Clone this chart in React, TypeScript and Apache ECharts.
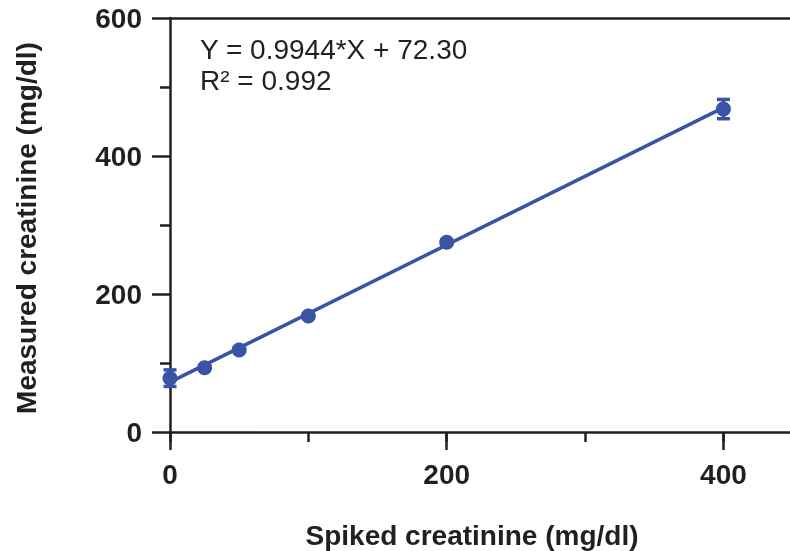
import React, { useEffect, useRef } from "react";
import * as echarts from "echarts";

const spiked = [0, 25, 50, 100, 200, 400];
const measured = [78, 93, 119, 168, 275, 468];
const errors = [12, 3, 3, 3, 3, 14];
const slope = 0.9944;
const intercept = 72.3;
const yTicks = [0, 200, 400, 600];
const eqLine1 = "Y = 0.9944*X + 72.30";
const eqLine2 = "R² = 0.992";
const xTitle = "Spiked creatinine (mg/dl)";
const yTitle = "Measured creatinine (mg/dl)";

const FONT = "'Liberation Sans', Arial, Helvetica, sans-serif";
const INK = "#231f20";
const BLUE = "#3a53a4";

export default function App() {
  const ref = useRef<HTMLDivElement>(null);
  useEffect(() => {
    if (!ref.current) return;
    const chart = echarts.init(ref.current, null, { renderer: "svg" });
    const pts = spiked.map((x, i) => [x, measured[i]]);
    const errData = spiked.map((x, i) => [x, measured[i] - errors[i], measured[i] + errors[i]]);
    const fitX = [spiked[0], spiked[spiked.length - 1]];
    const fit = fitX.map((x) => [x, slope * x + intercept]);
    const XMAX = 451;
    chart.setOption({
      animation: false,
      grid: { left: 170, top: 18, width: 624, height: 414, outerBoundsMode: "none", containLabel: false },
      xAxis: [
        {
          type: "value",
          min: 0,
          max: XMAX,
          interval: 200,
          position: "bottom",
          axisLine: { show: true, lineStyle: { color: INK, width: 2.5 } },
          axisTick: { show: true, length: 18, lineStyle: { color: INK, width: 2.5 } },
          splitLine: { show: false },
          axisLabel: {
            margin: 28,
            fontSize: 28,
            fontWeight: "bold",
            fontFamily: FONT,
            color: INK,
            formatter: (v: number) => (v % 200 === 0 ? String(v) : ""),
          },
        },
        {
          type: "value",
          min: 0,
          max: XMAX,
          interval: 100,
          position: "bottom",
          axisLine: { show: false },
          axisTick: { show: true, length: 10, lineStyle: { color: INK, width: 2.5 } },
          splitLine: { show: false },
          axisLabel: { show: false },
        },
        {
          type: "value",
          min: 0,
          max: XMAX,
          position: "top",
          axisLine: { show: true, onZero: false, lineStyle: { color: INK, width: 2.5 } },
          axisTick: { show: false },
          splitLine: { show: false },
          axisLabel: { show: false },
        },
      ],
      yAxis: {
        type: "value",
        min: yTicks[0],
        max: yTicks[yTicks.length - 1],
        interval: 200,
        axisLine: { show: true, lineStyle: { color: INK, width: 2.5 } },
        axisTick: { show: true, length: 18, lineStyle: { color: INK, width: 2.5 } },
        minorTick: { show: true, splitNumber: 2, length: 10, lineStyle: { color: INK, width: 2.5 } },
        splitLine: { show: false },
        axisLabel: { margin: 28, fontSize: 28, fontWeight: "bold", fontFamily: FONT, color: INK },
      },
      graphic: [
        {
          type: "text",
          left: 200,
          top: 35,
          style: { text: eqLine1, fontSize: 28, fontFamily: FONT, fill: INK },
        },
        {
          type: "text",
          left: 200,
          top: 66,
          style: { text: eqLine2, fontSize: 28, fontFamily: FONT, fill: INK },
        },
        {
          type: "text",
          x: 472,
          y: 535,
          style: {
            text: xTitle,
            fontSize: 28,
            fontWeight: "bold",
            fontFamily: FONT,
            fill: INK,
            align: "center",
            verticalAlign: "middle",
          },
        },
        {
          type: "text",
          x: 26,
          y: 228,
          rotation: Math.PI / 2,
          style: {
            text: yTitle,
            fontSize: 28,
            fontWeight: "bold",
            fontFamily: FONT,
            fill: INK,
            align: "center",
            verticalAlign: "middle",
          },
        },
      ],
      series: [
        {
          type: "line",
          data: fit,
          symbol: "none",
          lineStyle: { color: BLUE, width: 3.5 },
          z: 2,
        },
        {
          type: "scatter",
          data: pts,
          symbol: "circle",
          symbolSize: 15,
          itemStyle: { color: BLUE, opacity: 1 },
          z: 3,
        },
        {
          type: "custom",
          data: errData,
          z: 4,
          renderItem: (params: any, api: any) => {
            const x = api.value(0);
            const lo = api.coord([x, api.value(1)]);
            const hi = api.coord([x, api.value(2)]);
            const w = 6.5;
            const style = { stroke: BLUE, lineWidth: 3.5 };
            return {
              type: "group",
              children: [
                { type: "line", shape: { x1: lo[0], y1: lo[1], x2: hi[0], y2: hi[1] }, style },
                { type: "line", shape: { x1: lo[0] - w, y1: lo[1], x2: lo[0] + w, y2: lo[1] }, style },
                { type: "line", shape: { x1: hi[0] - w, y1: hi[1], x2: hi[0] + w, y2: hi[1] }, style },
              ],
            };
          },
        },
      ],
    });
    return () => chart.dispose();
  }, []);
  return (
    <div
      ref={ref}
      style={{ position: "fixed", left: 0, top: 0, width: 790, height: 551 }}
    />
  );
}
